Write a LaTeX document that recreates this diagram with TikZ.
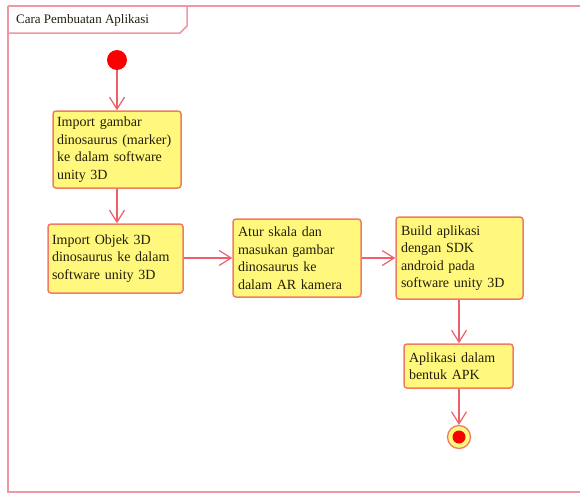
\documentclass[tikz,border=0pt]{standalone}
\usepackage{fontspec}
\setmainfont{Liberation Serif}
\usetikzlibrary{arrows.meta}
\definecolor{framecol}{RGB}{242,150,160}
\definecolor{arrowcol}{RGB}{238,95,105}
\definecolor{boxline}{RGB}{240,125,95}
\definecolor{boxfill}{RGB}{255,248,125}
\definecolor{txtcol}{RGB}{35,30,10}
\definecolor{startred}{RGB}{250,0,0}
\tikzset{
  act/.style={draw=boxline, fill=boxfill, line width=1.5pt, rounded corners=3pt,
    align=left, inner sep=0pt, font=\fontsize{14}{17.5}\selectfont, text=txtcol},
  flow/.style={draw=arrowcol, line width=1.2pt, -{Straight Barb[length=12pt,width=15pt,line width=1.2pt]}},
}
\begin{document}
\begin{tikzpicture}[x=1pt,y=-1pt]
\useasboundingbox (0,0) rectangle (580,493);
\fill[white] (0,0) rectangle (580,493);
% frame
\draw[framecol, line width=2pt] (7.5,6) -- (590,6);
\draw[framecol, line width=2pt] (7.5,6) -- (7.5,492) -- (590,492);
\draw[framecol, line width=1.5pt] (7.5,33) -- (180,33) -- (187,26) -- (187,6);
\node[anchor=west, inner sep=0pt, font=\fontsize{13}{15}\selectfont, text=txtcol] (title) at (16,20) {Cara Pembuatan Aplikasi};
% start
\node[circle, fill=startred, minimum size=20pt, inner sep=0pt] (start) at (117,60) {};
% activities
\node[act, minimum width=128pt, minimum height=77pt, text width=120pt] (a1) at (117,149.5)
  {Import gambar\\dinosaurus (marker)\\ke dalam software\\unity 3D};
\node[act, minimum width=135pt, minimum height=69pt, text width=127pt] (a2) at (115.5,258.5)
  {Import Objek 3D\\dinosaurus ke dalam\\software unity 3D};
\node[act, minimum width=128pt, minimum height=78pt, text width=118pt] (a3) at (297,258)
  {Atur skala dan\\masukan gambar\\dinosaurus ke\\dalam AR kamera};
\node[act, minimum width=127pt, minimum height=82pt, text width=117pt] (a4) at (459.5,258)
  {Build aplikasi\\dengan SDK\\android pada\\software unity 3D};
\node[act, minimum width=109pt, minimum height=44pt, text width=99pt] (a5) at (458.5,366)
  {Aplikasi dalam\\bentuk APK};
% end
\node[circle, draw=boxline, fill=boxfill, line width=1.3pt, minimum size=23pt, inner sep=0pt] (end) at (459,437) {};
\node[circle, fill=startred, minimum size=13pt, inner sep=0pt] (endin) at (459,437) {};
% flows
\draw[flow] (start) -- (a1.north -| start);
\draw[flow] (a1.south -| start) -- (a2.north -| start);
\draw[flow] (a2.east |- a3) -- (a3.west);
\draw[flow] (a3.east) -- (a4.west |- a3);
\draw[flow] (a4.south -| end) -- (a5.north -| end);
\draw[flow] (a5.south -| end) -- (end.north);
\end{tikzpicture}
\end{document}
